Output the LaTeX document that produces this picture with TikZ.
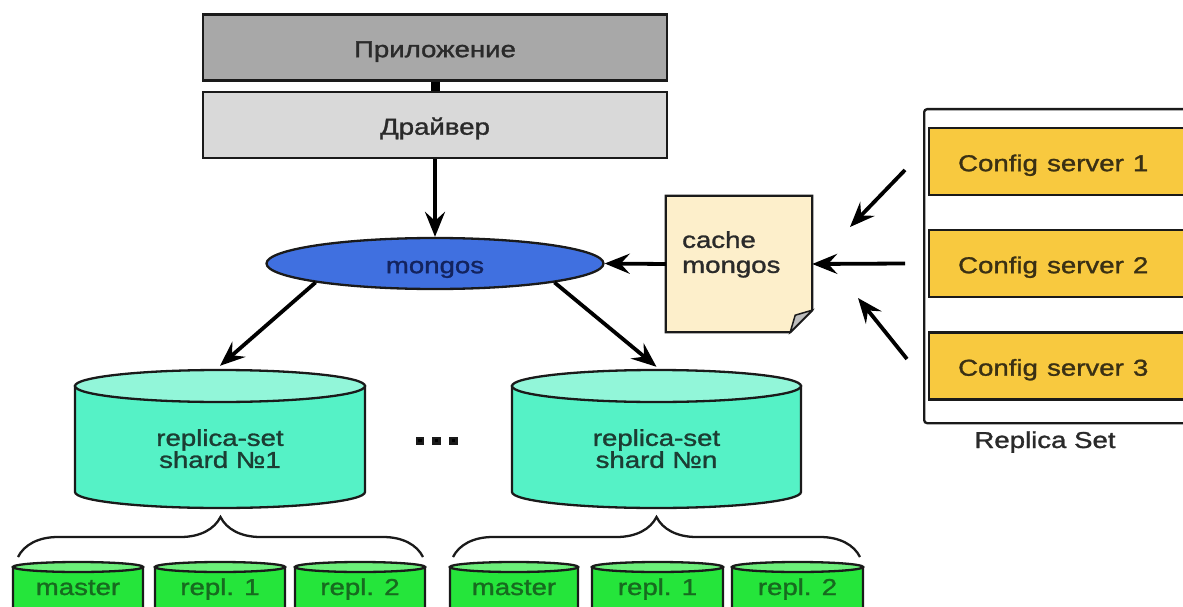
\documentclass[tikz,border=0pt]{standalone}
\usepackage{fontspec}
\setmainfont{Liberation Sans}[RawFeature={embolden=1.2}]
\usepackage{graphicx}
\usetikzlibrary{shapes.geometric,arrows.meta,decorations.pathreplacing,calc}
\definecolor{outl}{HTML}{1A1A1A}
\definecolor{appgray}{HTML}{A8A8A8}
\definecolor{drvgray}{HTML}{D9D9D9}
\definecolor{mblue}{HTML}{4070E0}
\definecolor{mtext}{HTML}{13235E}
\definecolor{shbody}{HTML}{55F2C6}
\definecolor{shtop}{HTML}{92F6D9}
\definecolor{shtext}{HTML}{1C3D33}
\definecolor{smbody}{HTML}{25E53B}
\definecolor{smtop}{HTML}{6CEF7A}
\definecolor{smtext}{HTML}{176A1F}
\definecolor{notefill}{HTML}{FDEFCB}
\definecolor{foldgray}{HTML}{BDBDBD}
\definecolor{cfgfill}{HTML}{F8C93F}
\definecolor{cfgtext}{HTML}{3A3014}
\definecolor{darktext}{HTML}{2A2A2A}
\newcommand{\ws}[1]{\scalebox{1.2}[1]{#1}}
\newcommand{\cylshape}[7]{%
  \filldraw[outl, fill=#6] (#1-#3,#2+#4) -- (#1-#3,#5-#4)
    arc[start angle=180,end angle=360,x radius=#3pt,y radius=#4pt]
    -- (#1+#3,#2+#4) -- cycle;
  \filldraw[outl, fill=#7] (#1,#2+#4) ellipse [x radius=#3pt, y radius=#4pt];
}
\begin{document}
\begin{tikzpicture}[x=1pt,y=-1pt,
  outl/.style={draw=outl, line width=2.3pt},
  fnt/.style={font=\fontsize{23pt}{24pt}\selectfont},
  txt/.style={fnt, text height=24pt, text depth=4.6pt},
  layerbox/.style={outl, minimum width=464pt, minimum height=66pt, inner sep=0pt, txt, text=darktext},
  cfgbox/.style={outl, fill=cfgfill, anchor=west, minimum height=67pt, text width=230pt,
                 inner xsep=29pt, inner ysep=0pt, align=left, txt, text=cfgtext},
  arr/.style={line width=3.8pt, -{Stealth[length=25pt,width=20pt,inset=9pt]}},
  ghost/.style={inner sep=0pt}
]
\useasboundingbox (0,0) rectangle (1183,607);
\clip (0,0) rectangle (1183,607);
\fill[white] (0,0) rectangle (1183,607);

% top layers
\node[layerbox, fill=appgray] (app) at (435,47.5) {\ws{Приложение}};
\node[layerbox, fill=drvgray] (drv) at (435,125) {\ws{Драйвер}};
\draw[line width=9pt] (app.south) -- (drv.north);

% mongos
\node[ellipse, outl, fill=mblue, minimum width=337pt, minimum height=51pt, inner sep=0pt,
      txt, text=mtext] (mongos) at (435,263.5) {\ws{mongos}};
\draw[arr] (drv.south) -- (mongos.north);

% cache note
\node[ghost, minimum width=146pt, minimum height=136pt] (note) at (739,264) {};
\filldraw[outl, fill=notefill] (note.north west) -- (note.north east)
  -- ([yshift=22pt]note.south east) -- ([xshift=-22pt]note.south east)
  -- (note.south west) -- cycle;
\filldraw[draw=outl, line width=1.5pt, fill=foldgray] ([yshift=22pt]note.south east)
  -- ([xshift=-22pt]note.south east) -- ([xshift=-17pt,yshift=17pt]note.south east) -- cycle;
\node[fnt, font=\fontsize{23pt}{25pt}\selectfont, align=left, anchor=north west, inner sep=0pt, text=darktext]
  (notetxt) at (682,231) {\ws{cache}\\\ws{mongos}};
\draw[arr] (note.west) -- (mongos.east);

% big cylinders
\cylshape{220}{370}{145}{16}{508}{shbody}{shtop}
\cylshape{656.5}{370}{144.5}{16}{508}{shbody}{shtop}
\node[ghost, minimum width=290pt, minimum height=138pt] (sh1) at (220,439) {};
\node[ghost, minimum width=289pt, minimum height=138pt] (shn) at (656.5,439) {};
\node[fnt, font=\fontsize{23pt}{22pt}\selectfont, align=center, anchor=north, inner sep=0pt, text=shtext]
  (sh1txt) at (220,429) {\ws{replica-set}\\\ws{shard №1}};
\node[fnt, font=\fontsize{23pt}{22pt}\selectfont, align=center, anchor=north, inner sep=0pt, text=shtext]
  (shntxt) at (656.5,429) {\ws{replica-set}\\\ws{shard №n}};
\draw[arr] (mongos.189) -- ([yshift=4pt]sh1.north);
\draw[arr] (mongos.351) -- ([yshift=3pt]shn.north);

% dots
\fill[outl] (417,438) rectangle (423,443.5);
\fill[outl] (433.5,438) rectangle (439.5,443.5);
\fill[outl] (450.5,438) rectangle (456.5,443.5);

% braces
\draw[outl, decorate, decoration={brace, amplitude=40pt}] (18,557) -- (423,557);
\draw[outl, decorate, decoration={brace, amplitude=40pt}] (453,557) -- (860,557);

% small cylinders
\cylshape{78}{562}{65}{5}{640}{smbody}{smtop}
\cylshape{220}{562}{65}{5}{640}{smbody}{smtop}
\cylshape{360}{562}{65}{5}{640}{smbody}{smtop}
\cylshape{514}{562}{64}{5}{640}{smbody}{smtop}
\cylshape{657.5}{562}{65.5}{5}{640}{smbody}{smtop}
\cylshape{797.5}{562}{65.5}{5}{640}{smbody}{smtop}
\node[fnt, anchor=base, text=smtext] (m1) at (78,595) {\ws{master}};
\node[fnt, anchor=base, text=smtext] (r11) at (220,595) {\ws{repl. 1}};
\node[fnt, anchor=base, text=smtext] (r12) at (360,595) {\ws{repl. 2}};
\node[fnt, anchor=base, text=smtext] (m2) at (514,595) {\ws{master}};
\node[fnt, anchor=base, text=smtext] (r21) at (657.5,595) {\ws{repl. 1}};
\node[fnt, anchor=base, text=smtext] (r22) at (797.5,595) {\ws{repl. 2}};

% replica set of config servers
\node[outl, rounded corners=3pt, minimum width=290pt, minimum height=314pt, anchor=north west, inner sep=0pt]
  (rs) at (923,108) {};
\node[cfgbox] (c1) at (928,161.5) {\ws{Config server 1}};
\node[cfgbox] (c2) at (928,263.5) {\ws{Config server 2}};
\node[cfgbox] (c3) at (928,366) {\ws{Config server 3}};
\node[fnt, anchor=base, text=darktext] (rsl) at (1045,448) {\ws{Replica Set}};

\coordinate (a1) at (905,170);
\coordinate (a1e) at (850,227);
\coordinate (a2) at (905,263.5);
\coordinate (a3) at (907,359);
\coordinate (a3e) at (858,298);
\draw[arr] (a1) -- (a1e);
\draw[arr] (a2) -- (note.east);
\draw[arr] (a3) -- (a3e);
\end{tikzpicture}
\end{document}
